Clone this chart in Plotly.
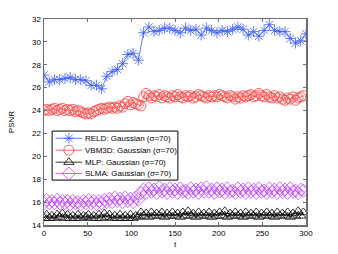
import plotly.graph_objects as go

# ---- data ----
t_reld = list(range(0, 301, 6))
reld = [27.1, 26.5, 26.7, 26.7, 26.8, 26.9, 26.7, 26.7, 26.6, 26.2,
        26.2, 25.9, 27.0, 27.4, 27.6, 28.1, 28.9, 29.0, 28.4, 30.8,
        31.3, 30.9, 31.0, 31.2, 31.2, 31.0, 30.8, 31.2, 31.0, 31.1,
        30.6, 31.2, 31.0, 30.8, 31.0, 30.9, 31.1, 31.3, 31.1, 30.6,
        30.9, 30.5, 31.0, 31.5, 31.0, 30.9, 30.9, 30.3, 29.9, 30.1,
        30.7]

vbm3d = [24.0, 24.1, 24.0, 24.1, 24.2, 24.0, 24.1, 24.2, 24.0, 24.1, 24.0, 24.1, 23.9, 24.0, 23.9,
         23.8, 23.7, 23.8, 23.7, 23.9,
         24.0, 24.1, 24.2, 24.1, 24.2, 24.3, 24.2, 24.3, 24.2,
         24.4, 24.3, 24.6, 24.8, 24.5, 24.7, 24.6, 24.5, 24.4,
         25.2, 25.5, 25.3, 25.1, 25.3, 25.2, 25.4, 25.1, 25.3, 25.2, 25.1, 25.3, 25.2, 25.4, 25.2,
         25.1, 25.3, 25.2, 25.3, 25.1, 25.2, 25.4, 25.3, 25.2, 25.1, 25.3, 25.2, 25.3, 25.2, 25.4,
         25.3, 25.2, 25.1, 25.3, 25.2, 25.0, 25.2, 25.1, 25.3, 25.2, 25.3, 25.4, 25.2, 25.3, 25.5,
         25.3, 25.2, 25.4, 25.2, 25.1, 25.3, 25.1, 25.2, 25.0, 24.9, 25.1, 25.0, 25.2, 24.9, 25.1,
         25.2, 25.3]

mlp = [14.6, 14.9, 14.6, 14.8, 14.6, 14.9, 14.7, 15.0, 14.6, 14.9, 14.6, 14.8, 14.6, 14.9,
       14.6, 14.8, 14.7, 14.9, 14.6, 14.8, 14.6, 14.9, 14.6, 15.0, 14.7, 14.9, 14.6, 14.8,
       14.6, 14.9, 14.6, 14.8, 14.6, 14.9, 14.6, 14.8, 14.7,
       15.1, 14.8, 15.0, 14.7, 15.1, 14.8, 15.0, 14.8, 15.1, 14.7, 15.0, 14.8, 15.1, 14.8,
       15.0, 14.7, 15.1, 14.8, 15.2, 14.8, 15.0, 14.7, 15.1, 14.8, 15.0, 14.8, 15.1, 14.7,
       15.0, 14.8, 15.1, 14.8, 15.2, 14.7, 15.0, 14.8, 15.1, 14.8, 15.0, 14.7, 15.1, 14.8,
       15.0, 14.8, 15.1, 14.7, 15.0, 14.8, 15.1, 14.8, 15.0, 14.7, 15.1, 14.8, 15.0, 14.8,
       15.1, 14.7, 15.0, 14.8, 15.2, 14.8, 15.1]

slma = [15.9, 16.2, 15.9, 16.1, 15.9, 16.2, 15.9, 16.1, 15.9, 16.1, 15.8, 16.1, 15.9, 16.0,
        15.8, 16.1, 15.9, 16.2, 15.9, 16.1, 15.8, 16.1, 15.9, 16.2, 16.0, 16.3, 16.0, 16.4,
        16.1, 16.3, 16.0, 16.4, 16.1, 16.3, 16.0, 16.4, 16.2,
        16.8, 17.1, 16.8, 17.2, 16.9, 17.1, 16.8, 17.3, 16.9, 17.1, 16.8, 17.2, 16.9, 17.1,
        16.8, 17.2, 16.9, 17.0, 16.8, 17.2, 16.9, 17.1, 16.8, 17.2, 16.9, 17.3, 16.9, 17.1,
        16.8, 17.2, 16.9, 17.1, 16.8, 17.2, 16.9, 17.0, 16.8, 17.2, 16.9, 17.1, 16.8, 17.2,
        16.9, 17.1, 16.8, 17.2, 16.9, 17.0, 16.8, 17.2, 16.9, 17.1, 16.8, 17.2, 16.9, 17.1,
        16.8, 17.2, 16.9, 17.0, 16.8, 17.1, 17.0]

t_dense_vbm3d = list(range(0, 3 * len(vbm3d), 3))
t_dense_mlp = list(range(0, 3 * len(mlp), 3))
t_dense_slma = list(range(0, 3 * len(slma), 3))

names = ["RELD: Gaussian (σ=70)", "VBM3D: Gaussian (σ=70)",
         "MLP: Gaussian (σ=70)", "SLMA: Gaussian (σ=70)"]
colors = ["#3a5cff", "#ff3b3b", "#000000", "#c040ff"]
symbols = ["asterisk-open", "circle-open", "triangle-up-open", "diamond-open"]
sizes = [9, 10, 9, 10]
xs_all = [t_reld, t_dense_vbm3d, t_dense_mlp, t_dense_slma]
ys_all = [reld, vbm3d, mlp, slma]

x_ticks = [0, 50, 100, 150, 200, 250, 300]
y_ticks = [14, 16, 18, 20, 22, 24, 26, 28, 30, 32]

fig = go.Figure()
for name, xs, ys, col, sym, sz in zip(names, xs_all, ys_all, colors, symbols, sizes):
    fig.add_trace(go.Scatter(
        x=xs, y=ys, name=name, mode="lines+markers", showlegend=False,
        line=dict(color=col, width=0.8),
        marker=dict(symbol=sym, size=sz, color=col, line=dict(color=col, width=0.8)),
    ))

# ---- compact MATLAB-style legend (box + samples + labels) ----
leg_left, leg_right, leg_top, leg_bottom = 0.031, 0.511, 0.456, 0.218
row_y = [0.421, 0.363, 0.305, 0.250]
samp_x0, samp_x1 = 0.044, 0.146
fig.add_shape(type="rect", xref="x domain", yref="y domain",
              x0=leg_left, x1=leg_right, y0=leg_bottom, y1=leg_top,
              line=dict(color="#000", width=1), fillcolor="white", layer="below")
for name, col, sym, sz, ry in zip(names, colors, symbols, sizes, row_y):
    fig.add_trace(go.Scatter(
        x=[samp_x0, (samp_x0 + samp_x1) / 2, samp_x1], y=[ry, ry, ry],
        xaxis="x2", yaxis="y2", mode="lines", showlegend=False, hoverinfo="skip",
        line=dict(color=col, width=0.8)))
    fig.add_trace(go.Scatter(
        x=[(samp_x0 + samp_x1) / 2], y=[ry],
        xaxis="x2", yaxis="y2", mode="markers", showlegend=False, hoverinfo="skip",
        marker=dict(symbol=sym, size=sz, color=col, line=dict(color=col, width=0.8))))
    fig.add_annotation(text=name, xref="x domain", yref="y domain",
                       x=samp_x1 + 0.004, y=ry, xanchor="left", yanchor="middle",
                       showarrow=False,
                       font=dict(family="Liberation Sans, Arial, sans-serif", size=8, color="#000"))

font = dict(family="Liberation Sans, Arial, sans-serif", size=8, color="#000")
axis_common = dict(showgrid=False, zeroline=False, showline=True, mirror="ticks",
                   linecolor="#6e6e6e", linewidth=1.5, ticks="inside", ticklen=3,
                   tickcolor="#6e6e6e", tickfont=font, automargin=False)

fig.update_layout(
    width=338, height=254,
    margin=dict(l=44, r=32, t=19, b=29),
    paper_bgcolor="white", plot_bgcolor="white",
    font=font,
    showlegend=False,
    xaxis=dict(range=[0, 300], tickvals=x_ticks,
               title=dict(text="t", font=font, standoff=4), **axis_common),
    yaxis=dict(range=[14, 32], tickvals=y_ticks,
               title=dict(text="PSNR", font=font, standoff=16), **axis_common),
    xaxis2=dict(range=[0, 1], overlaying="x", visible=False, fixedrange=True),
    yaxis2=dict(range=[0, 1], overlaying="y", visible=False, fixedrange=True),
)

fig.write_html("out.html",
               config={"displayModeBar": False, "staticPlot": True},
               post_script="document.body.style.margin='0px';document.body.style.overflow='hidden';")
